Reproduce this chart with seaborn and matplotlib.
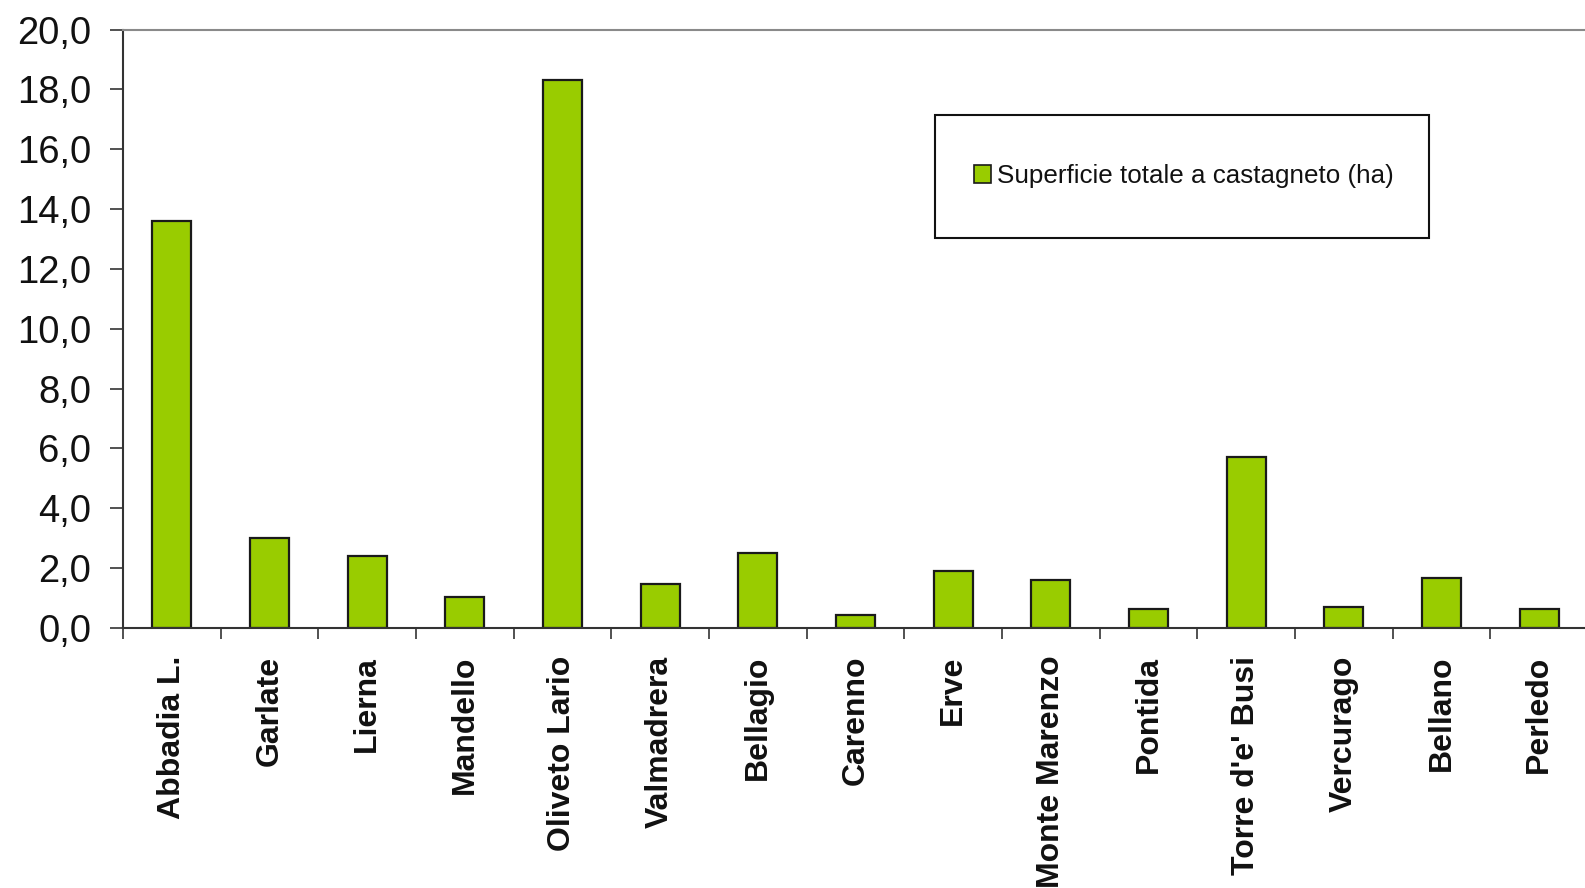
import matplotlib
matplotlib.use("Agg")
import matplotlib.pyplot as plt
import seaborn as sns
import pandas as pd
import numpy as np
from matplotlib.ticker import FuncFormatter, MultipleLocator, FixedLocator
from matplotlib.patches import Patch, Rectangle

comuni = ["Abbadia L.", "Garlate", "Lierna", "Mandello", "Oliveto Lario",
          "Valmadrera", "Bellagio", "Carenno", "Erve", "Monte Marenzo",
          "Pontida", "Torre d'e' Busi", "Vercurago", "Bellano", "Perledo"]
superficie = [13.6, 3.0, 2.4, 1.05, 18.3, 1.46, 2.5, 0.44, 1.9, 1.59,
              0.64, 5.72, 0.71, 1.66, 0.64]
serie = "Superficie totale a castagneto (ha)"

df = pd.DataFrame({"Comune": comuni, "Valore": superficie})

sns.set_theme(style="white")
plt.rcParams["font.family"] = ["Liberation Sans", "DejaVu Sans"]

W, H = 1585, 888
fig = plt.figure(figsize=(W / 100, H / 100), dpi=100)
ax = fig.add_axes([123 / W, 1 - 628 / H, 1 - 123 / W, (628 - 29.5) / H])

sns.barplot(data=df, x="Comune", y="Valore", color="#99CC00", edgecolor="#1a1a1a",
            linewidth=1.6, width=0.4, saturation=1, ax=ax)

ax.set_ylim(0, 20)
ax.set_xlim(-0.5, 14.47)
ax.yaxis.set_major_locator(MultipleLocator(2))
ax.yaxis.set_major_formatter(FuncFormatter(lambda v, p: f"{v:.1f}".replace(".", ",")))
ax.set_xlabel("")
ax.set_ylabel("")

ax.tick_params(axis="y", which="major", direction="out", length=9.5, width=1.2,
               color="#333333", pad=13.5, labelsize=27.5, labelcolor="#111111", left=True)
ax.tick_params(axis="x", which="major", length=0, pad=20, labelsize=23,
               labelcolor="#111111", labelrotation=90, bottom=True)
ax.xaxis.set_minor_locator(FixedLocator(np.arange(-0.5, 15, 1.0)))
ax.tick_params(axis="x", which="minor", direction="out", length=8, width=1.2,
               color="#333333", bottom=True)
for lab in ax.get_xticklabels():
    lab.set_fontweight("bold")

for side in ["left", "bottom"]:
    ax.spines[side].set_color("#333333")
    ax.spines[side].set_linewidth(1.5)
ax.spines["top"].set_color("#8a8a8a")
ax.spines["top"].set_linewidth(1.5)
ax.spines["right"].set_visible(False)
ax.grid(False)

# legend frame (drawn separately to match box proportions)
box_x0, box_y0, box_x1, box_y1 = 935, 115, 1429, 238
frame = Rectangle((box_x0 / W, 1 - box_y1 / H), (box_x1 - box_x0) / W,
                  (box_y1 - box_y0) / H, transform=fig.transFigure,
                  facecolor="white", edgecolor="#111111", linewidth=1.5,
                  zorder=5, clip_on=False)
ax.add_patch(frame)

handle = Patch(facecolor="#99CC00", edgecolor="#1a1a1a", linewidth=1.2)
leg = ax.legend([handle], [serie], loc="center",
                bbox_to_anchor=(1184 / W, 1 - 176 / H),
                bbox_transform=fig.transFigure, fontsize=18.7, frameon=False,
                handlelength=0.65, handleheight=0.65,
                handletextpad=0.25, borderpad=0, borderaxespad=0,
                labelcolor="#111111")
leg.set_zorder(10)

fig.savefig("out.png", dpi=100)
